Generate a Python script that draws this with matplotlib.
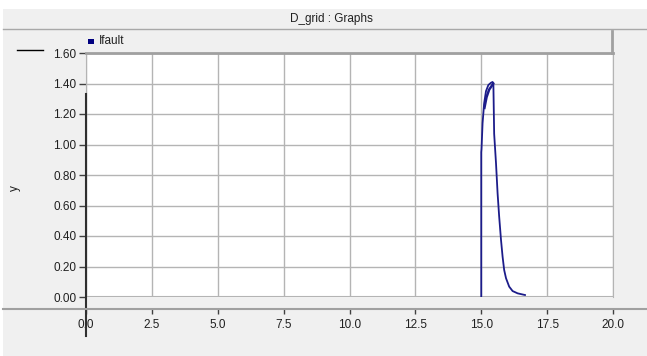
import numpy as np
import matplotlib
matplotlib.use("Agg")
import matplotlib.pyplot as plt
from matplotlib.lines import Line2D
from matplotlib.patches import Rectangle

# Ifault trace (time, value)
t_fault = [15.0, 15.0, 15.01, 15.05, 15.11, 15.18, 15.27, 15.37, 15.43,
           15.46, 15.49, 15.56, 15.62, 15.68, 15.75, 15.81, 15.87, 15.94,
           16.06, 16.19, 16.38, 16.66]
i_fault = [0.0, 0.95, 0.97, 1.14, 1.27, 1.35, 1.39, 1.405, 1.41,
           1.40, 1.07, 0.877, 0.68, 0.527, 0.374, 0.264, 0.177, 0.123,
           0.068, 0.039, 0.024, 0.013]
# inner edge of the dense band near the peak
t_band = [15.12, 15.2, 15.3, 15.4, 15.45]
i_band = [1.24, 1.31, 1.36, 1.385, 1.40]
# cursor at t = 0
t_cursor = [0.0, 0.0]
y_cursor = [1.33, -0.256]

x_ticks = [0, 2.5, 5, 7.5, 10, 12.5, 15, 17.5, 20]
y_ticks = [0.0, 0.2, 0.4, 0.6, 0.8, 1.0, 1.2, 1.4, 1.6]

W, H = 647, 356
BG = "#f0f0f0"
plt.rcParams["font.family"] = ["Liberation Sans", "DejaVu Sans"]

fig = plt.figure(figsize=(W / 100, H / 100), dpi=100, facecolor=BG)


def fx(px):
    return px / W


def fy(py):
    return 1 - py / H


# white strips at top and left
fig.add_artist(Rectangle((0, fy(9)), 1, 9 / H, transform=fig.transFigure,
                         facecolor="white", edgecolor="none"))
fig.add_artist(Rectangle((0, 0), 3 / W, fy(9), transform=fig.transFigure,
                         facecolor="white", edgecolor="none"))
# title bar bottom line
fig.add_artist(Line2D([fx(3), 1], [fy(29), fy(29)], transform=fig.transFigure,
                      color="#a8a8a8", lw=1))
fig.text(fx(331), fy(19), "D_grid : Graphs", ha="center", va="center",
         fontsize=8.5, color="#202020")

# legend bar
fig.add_artist(Rectangle((fx(86), fy(53)), (612 - 86) / W, 22 / H,
                         transform=fig.transFigure, facecolor=BG,
                         edgecolor="none"))
fig.add_artist(Line2D([fx(86), fx(613)], [fy(52.5), fy(52.5)],
                      transform=fig.transFigure, color="#a0a0a0", lw=2))
fig.add_artist(Line2D([fx(612), fx(612)], [fy(31), fy(53)],
                      transform=fig.transFigure, color="#a0a0a0", lw=2))
fig.add_artist(Rectangle((fx(88), fy(44)), 6 / W, 5 / H,
                         transform=fig.transFigure, facecolor="#000080",
                         edgecolor="none"))
fig.text(fx(99), fy(41.5), "Ifault", ha="left", va="center", fontsize=8.5,
         color="#202020")

# short black line left of the axis
fig.add_artist(Line2D([fx(17), fx(43)], [fy(50), fy(50)],
                      transform=fig.transFigure, color="black", lw=1))

# x axis line across the whole width
fig.add_artist(Line2D([fx(3), 1], [fy(309), fy(309)],
                      transform=fig.transFigure, color="#a0a0a0", lw=1.5))

ax = fig.add_axes([fx(86), fy(297), (613 - 86) / W, (297 - 53) / H])
ax.set_facecolor("white")
ax.set_xlim(0, 20)
ax.set_ylim(0, 1.6)

ax.plot(t_fault, i_fault, color="#1c1c8a", lw=1.3, zorder=3)
ax.plot(t_band, i_band, color="#1c1c8a", lw=1.8, zorder=3)
ax.plot(t_cursor, y_cursor, color="#303030", lw=1.5, clip_on=False, zorder=4)

ax.set_xticks(x_ticks)
ax.set_yticks(y_ticks)
ax.set_xticklabels(["%.1f" % v for v in x_ticks])
ax.set_yticklabels(["%.2f" % v for v in y_ticks])
ax.grid(True, color="#b4b4b4", lw=1)
ax.set_axisbelow(True)

for side in ["left", "right", "top"]:
    ax.spines[side].set_color("#b4b4b4")
ax.spines["bottom"].set_position(("outward", 12 * 0.72))
ax.spines["bottom"].set_visible(False)
ax.tick_params(axis="y", direction="out", length=5, width=1,
               color="#404040", labelsize=8.5, labelcolor="#202020", pad=2)
ax.tick_params(axis="x", direction="out", length=3.5, width=1,
               color="#404040", labelsize=8.5, labelcolor="#202020", pad=4)
# bottom border of the plot area
ax.axhline(0, color="#b4b4b4", lw=1.5, zorder=2)

fig.text(fx(15), fy(188), "y", rotation=90, ha="center", va="center",
         fontsize=8.5, color="#202020")

fig.savefig("out.png", dpi=100, facecolor=BG)
